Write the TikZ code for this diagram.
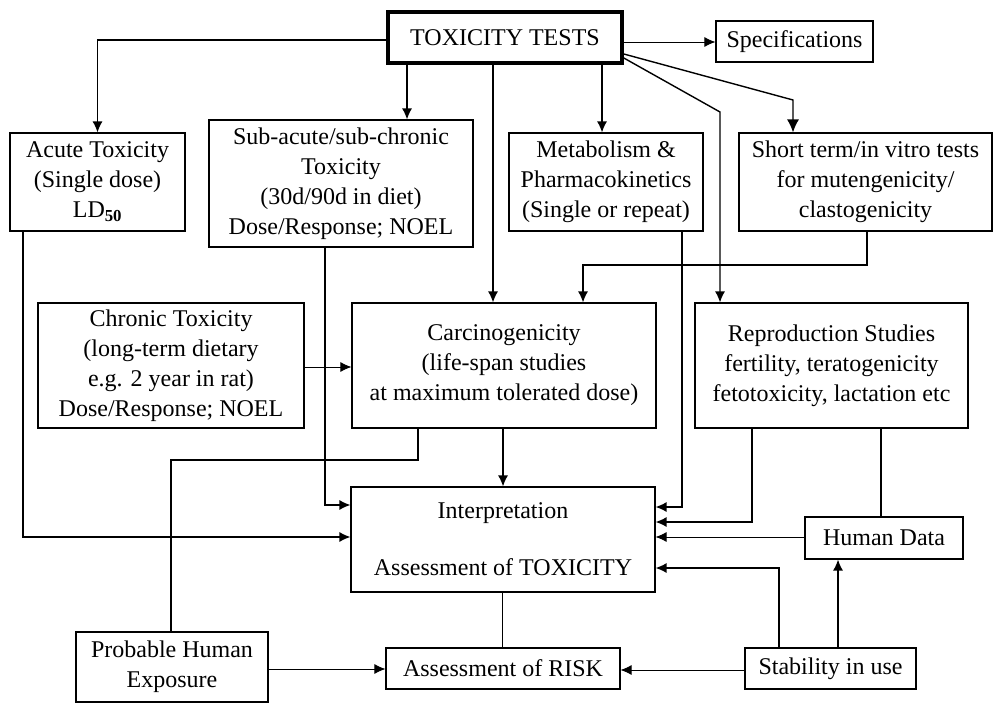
\documentclass[tikz,border=0pt]{standalone}
\usepackage{fontspec}
\setmainfont{Liberation Serif}
\usetikzlibrary{arrows.meta}
\begin{document}
\begin{tikzpicture}[x=1pt,y=-1pt,
  box/.style={draw,line width=1.1pt,align=center,inner sep=0pt,
    font=\fontsize{24}{30}\selectfont},
  conn/.style={line width=1.4pt},
  thin/.style={line width=0.9pt},
  arr/.style={-{Latex[length=11pt,width=10pt]}},
  bigarr/.style={-{Latex[length=13pt,width=12pt]}}]
\useasboundingbox (0,0) rectangle (995,703);
\node[box,line width=3.6pt,minimum width=234pt,minimum height=51pt] (tox) at (505,37.5) {TOXICITY TESTS};
\node[box,minimum width=157pt,minimum height=41pt] (spec) at (794.5,41.5) {Specifications};
\node[box,minimum width=175pt,minimum height=98pt] (acute) at (97.5,182) {Acute Toxicity\\(Single dose)\\LD$_{\mathbf{50}}$};
\node[box,minimum width=264pt,minimum height=127pt] (sub) at (341,183.5) {Sub-acute/sub-chronic\\Toxicity\\(30d/90d in diet)\\Dose/Response; NOEL};
\node[box,minimum width=194pt,minimum height=98pt] (metab) at (606,182) {Metabolism \&\\Pharmacokinetics\\(Single or repeat)};
\node[box,minimum width=253pt,minimum height=98pt] (short) at (865.5,182) {Short term/in vitro tests\\for mutengenicity/\\clastogenicity};
\node[box,minimum width=266pt,minimum height=125pt] (chronic) at (171,365.5) {Chronic Toxicity\\(long-term dietary\\e.g. 2 year in rat)\\Dose/Response; NOEL};
\node[box,minimum width=304pt,minimum height=125pt] (carc) at (504,365.5) {Carcinogenicity\\(life-span studies\\at maximum tolerated dose)};
\node[box,minimum width=273pt,minimum height=125pt] (repro) at (831.5,365.5) {Reproduction Studies\\fertility, teratogenicity\\fetotoxicity, lactation etc};
\node[box,minimum width=304pt,minimum height=105pt] (interp) at (503,539.5) {Interpretation\\[27pt]Assessment of TOXICITY};
\node[box,minimum width=158pt,minimum height=42pt] (human) at (884,538) {Human Data};
\node[box,minimum width=192pt,minimum height=70pt] (phe) at (172,667) {Probable Human\\Exposure};
\node[box,minimum width=234pt,minimum height=41pt] (risk) at (503,668.5) {Assessment of RISK};
\node[box,minimum width=171pt,minimum height=41pt] (stab) at (830.5,668.5) {Stability in use};
% from TOXICITY TESTS
\draw[conn,arr] (tox.west |- 0,40) -| (acute.north);
\draw[conn,arr] (tox.south -| 407,0) -- (sub.north -| 407,0);
\draw[conn,arr] (tox.south -| 493,0) -- (carc.north -| 493,0);
\draw[conn,arr] (tox.south -| 602,0) -- (metab.north -| 602,0);
\draw[conn,arr] (tox.east |- 0,58) -- (720,112) -- (repro.north -| 720,0);
\draw[conn,bigarr] (tox.east |- 0,54) -- (793,100) -- (short.north -| 793,0);
\draw[thin,arr] (tox.east |- 0,42) -- (spec.west |- 0,42);
% middle
\draw[conn,arr] (short.south -| 867,0) -- (867,265) -| (carc.north -| 583,0);
\draw[thin,arr] (chronic.east |- 0,367) -- (carc.west |- 0,367);
\draw[conn,arr] (metab.south -| 682,0) |- (interp.east |- 0,507);
\draw[conn,arr] (sub.south -| 325,0) |- (interp.west |- 0,505);
\draw[conn,arr] (acute.south -| 23,0) |- (interp.west |- 0,537);
\draw[conn] (carc.south -| 418,0) -- (418,460) -| (phe.north -| 171,0);
\draw[conn,arr] (carc.south -| 503,0) -- (interp.north -| 503,0);
\draw[conn,arr] (repro.south -| 752,0) |- (interp.east |- 0,522);
\draw[conn] (repro.south -| 881,0) -- (human.north -| 881,0);
\draw[thin,arr] (human.west |- 0,537) -- (interp.east |- 0,537);
% bottom
\draw[conn,arr] (stab.north -| 779,0) |- (interp.east |- 0,568);
\draw[conn,arr] (stab.north -| 838,0) -- (human.south -| 838,0);
\draw[thin,arr] (stab.west |- 0,670) -- (risk.east |- 0,670);
\draw[thin] (interp.south -| 502,0) -- (risk.north -| 502,0);
\draw[thin,arr] (phe.east |- 0,669) -- (risk.west |- 0,669);
\end{tikzpicture}
\end{document}
